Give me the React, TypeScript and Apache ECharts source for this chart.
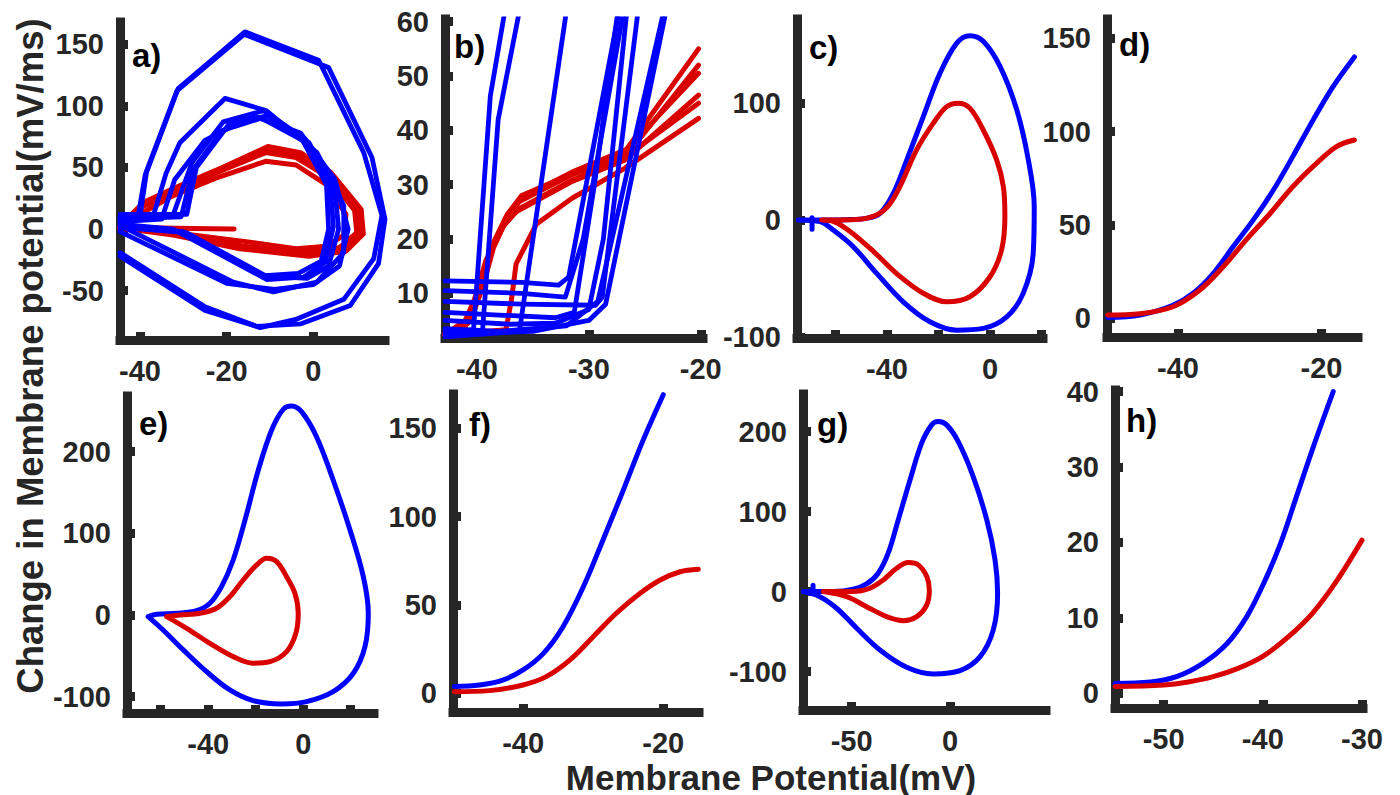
import React, { useEffect, useRef } from "react";
import * as echarts from "echarts";

const FONT = '"Liberation Sans", Arial, Helvetica, sans-serif';
const AXIS = "#262626";
const BLUE = "#0000ff";
const RED = "#d90000";

// ---------- panel a: phase-plane trajectories (V, dV/dt) ----------
const aBlue: number[][][] = [
  [[-44.6, 7], [-40, 10], [-38.5, 46], [-31.2, 114], [-15.8, 160], [1.2, 137], [11.6, 62], [15.8, 11], [13.9, -24], [7, -57], [-3.8, -73], [-12.3, -80], [-25, -63], [-44.6, -19]],
  [[-44.6, 5], [-40.5, 9], [-38.8, 44], [-31.5, 112], [-16, 158], [3.5, 131], [13.5, 58], [16.5, 8], [15, -28], [8.5, -62], [-3, -77], [-13, -79], [-25, -66], [-44.6, -22]],
  [[-44.6, 9], [-36.9, 11], [-34, 45], [-30.8, 70], [-20.4, 106], [-10.8, 96], [0.8, 62], [7, 19], [7, -19], [0.8, -43], [-9.2, -51], [-18.5, -43], [-44.6, 3]],
  [[-44.6, 10], [-32.4, 11], [-28, 54], [-20.8, 87], [-11.5, 96], [-1.9, 73], [3.9, 35], [4.6, 2], [2.7, -27], [-2.3, -39], [-10.7, -41], [-32.4, 0], [-44.6, 4]],
  [[-44.6, 12], [-29.2, 12], [-27, 50], [-19.5, 85], [-10.5, 92], [-1, 70], [5, 30], [5.8, 0], [3.5, -30], [-1.5, -40], [-11, -38], [-29.2, -3], [-44.6, 2]],
  [[-44.6, 8], [-30.5, 10], [-27.8, 48], [-21, 80], [-12, 90], [-2.5, 72], [3, 36], [3.5, 0], [1.8, -26], [-3.5, -36], [-12, -38], [-30, -2], [-44.6, 1]],
  [[-44.6, 6], [-35, 8], [-32, 40], [-25, 72], [-14, 92], [-3, 78], [5, 40], [8, 0], [6, -30], [0, -45], [-9, -49], [-20, -44], [-44.6, -2]],
];
const aRed: number[][][] = [
  [[-44.6, 1], [-40, 12], [-33, 26], [-22, 42], [-11, 55], [-4, 52], [3, 36], [7.5, 12], [7, -5], [3, -14], [-4, -16], [-16, -10], [-32, -3], [-44.6, 0]],
  [[-44.6, 2], [-39.5, 18], [-32, 31], [-21.5, 47], [-11, 62], [-4, 58], [3.5, 42], [9.5, 15], [10, -3], [6, -15], [-1, -19], [-16, -14], [-31, -4], [-44.6, 1]],
  [[-44.6, 3], [-39, 22], [-31, 35], [-21, 50], [-10.5, 67], [-3, 62], [4, 46], [11, 16], [11.5, -4], [7.5, -18], [-1, -22], [-17, -16], [-32, -5], [-44.6, 1]],
  [[-44.6, 2], [-39.5, 20], [-31.5, 33], [-21, 48], [-11.5, 64], [-3.5, 60], [3.8, 44], [10.5, 14], [10.5, -4], [6.5, -17], [-1, -20], [-16, -15], [-31, -4], [-44.6, 2]],
  [[-38, 1], [-28, 0.5], [-18.3, 0]],
];

// ---------- panel b: enlarged onset region ----------
const bBlue: number[][][] = [
  [[-42.85, 12.3], [-36, 12], [-32.7, 11.5], [-31.8, 13], [-27.3, 62]],
  [[-42.85, 10.5], [-36, 10], [-32.1, 9.3], [-30.5, 20], [-26.9, 62]],
  [[-42.85, 8.5], [-36, 8], [-29.4, 7.8], [-28.8, 9.3], [-25.6, 62]],
  [[-42.85, 6.5], [-38, 6], [-33, 5.5], [-31.3, 6.5], [-29.5, 30], [-27.4, 62]],
  [[-42.85, 5], [-37, 4.3], [-33, 4.5], [-30, 7], [-28.7, 20], [-26.6, 62]],
  [[-42.85, 3.5], [-38, 3], [-32, 4], [-29.2, 8.5], [-23.3, 62]],
  [[-42.85, 2.5], [-35, 3], [-30, 5], [-28.5, 8], [-23.1, 62]],
  [[-42.85, 2.8], [-40.3, 3.3], [-38.8, 46.3], [-37.5, 62]],
  [[-42.85, 2.3], [-39.5, 3], [-38.1, 42], [-36.2, 62]],
  [[-42.85, 2], [-36.2, 3], [-32, 62]],
];
const bRed: number[][][] = [
  [[-42.85, 2.5], [-40.8, 4.5], [-39.8, 10], [-38.8, 17.8], [-37.5, 23.5], [-36.2, 26.9], [-31.5, 31.8], [-26.8, 36], [-20.2, 55]],
  [[-42.85, 2.3], [-41, 4], [-40, 9.5], [-39, 16.5], [-37.6, 22.5], [-36.3, 25.5], [-31.5, 30.8], [-26.8, 35], [-20.2, 52]],
  [[-42.85, 2.2], [-40.6, 4.8], [-39.5, 11], [-38.5, 18.5], [-37.2, 24.3], [-36, 27.5], [-31.3, 32.5], [-26.6, 36.5], [-20.2, 50.5]],
  [[-42.85, 2.6], [-41.2, 4.2], [-40.2, 9], [-39.2, 16], [-37.8, 22], [-36.5, 25], [-31.6, 30.5], [-26.8, 34.5], [-20.2, 46.5]],
  [[-42.85, 2.4], [-40.7, 5.5], [-39.6, 12], [-38.6, 19], [-37.3, 24.5], [-36, 28], [-31.5, 32], [-26.8, 35], [-20.2, 45]],
  [[-42, 2.5], [-37.4, 3.3], [-36.9, 9], [-36.5, 15.4], [-34.7, 22.7], [-31.5, 27.5], [-26.8, 33], [-20.2, 42.2]],
];

// ---------- panel c ----------
const cBlue = [[-74.4, 0], [-64.8, 0], [-56, 0.3], [-48.2, 1.4], [-42.7, 5.7], [-37.5, 22.9], [-32.3, 51.4], [-25.9, 88.5], [-19.4, 125.7], [-12.9, 151.4], [-7.8, 157.7], [-2.6, 152.9], [3.9, 131.4], [10.4, 94.3], [14.9, 51.4], [17.2, 11.4], [16.8, -28.5], [12.9, -62.8], [6.5, -82.9], [-2.6, -92.8], [-12.9, -94.3], [-23.3, -87.1], [-33.7, -70], [-44, -45.7], [-53.1, -22.9], [-60.9, -8.6], [-66, -1.4], [-74.4, 0]];
const cBlueStart = [[-69.1, 2], [-69.1, -8]];
const cRed = [[-65.4, 0], [-55, 0.2], [-50.5, 0.6], [-44, 4.3], [-39.5, 12], [-35, 28.5], [-28.5, 60], [-22, 82.9], [-16.8, 97], [-12.3, 100], [-7.8, 95.7], [-2.6, 77], [2.6, 51.4], [5.2, 28.5], [5.8, 2.9], [4.5, -25.7], [0, -48.6], [-7.8, -65.7], [-16.8, -70], [-25.9, -62.7], [-36.4, -45.6], [-45.2, -27], [-54.2, -10], [-60.6, -1.4], [-65.4, 0]];

// ---------- panel d ----------
const dBlue = [[-49.8, 0.5], [-45.3, 1.8], [-40.7, 7], [-37.9, 13.4], [-35.1, 24], [-32.3, 38.4], [-29.5, 52.7], [-26.7, 68.7], [-24, 86.6], [-21.2, 106], [-18.4, 124], [-15.4, 140]];
const dRed = [[-49.8, 1.8], [-45.3, 2.5], [-40.7, 6.2], [-37, 15], [-33.7, 27.6], [-30.5, 42], [-27.2, 56], [-24, 70.5], [-20.7, 83], [-17.9, 92], [-15.4, 95.5]];

// ---------- panel e ----------
const eBlue = [[-65.3, -2], [-61.7, 0.8], [-53.3, 2], [-44.9, 5.3], [-39.3, 14.3], [-34.4, 34.7], [-29.5, 67.3], [-24.5, 116.3], [-18.9, 177.5], [-13.3, 226.4], [-8.4, 251.8], [-4.9, 255.8], [-0.7, 248.8], [5.6, 218.2], [12.6, 165.2], [19.7, 104], [25.3, 46.9], [27.4, 2.1], [26, -38.8], [21.1, -71.4], [12.6, -93.9], [1.4, -106.1], [-9.1, -108.9], [-21.1, -104.9], [-30.9, -91.8], [-40.7, -69.4], [-50.5, -42.8], [-59, -18.4], [-65.3, -2]];
const eRed = [[-57.5, -2], [-51.9, 0], [-43.5, 2], [-36.5, 8.2], [-30.9, 22.4], [-25.3, 42.8], [-19.6, 61.2], [-15.4, 69.4], [-11.2, 65.3], [-7, 46.9], [-3.5, 26.5], [-2.1, 2], [-3.1, -22.4], [-7, -44.9], [-14, -57.2], [-21.1, -59.1], [-29.5, -51], [-39.3, -34.7], [-49.1, -16.3], [-57.5, -2]];

// ---------- panel f ----------
const fBlue = [[-49.8, 3.8], [-46.2, 4.7], [-42.9, 7.5], [-40, 13.2], [-37.1, 22.6], [-34.3, 37.7], [-31.4, 60.3], [-28.6, 86.8], [-25.7, 115], [-22.9, 143], [-20, 169]];
const fRed = [[-49.8, 0.9], [-44.8, 1.5], [-40, 4.7], [-36.7, 9.4], [-33.3, 18.9], [-30, 32], [-26.7, 45.3], [-23.3, 56.6], [-20.5, 64], [-17.6, 68.8], [-15, 70.2]];

// ---------- panel g ----------
const gBlue = [[-74.6, 0], [-59.3, 0], [-49.2, 2.9], [-42.4, 9.6], [-36.5, 23], [-31.4, 48], [-26.3, 89.6], [-20.3, 139.6], [-14.4, 185.5], [-9.3, 208.4], [-5.9, 212.5], [-1.7, 208.4], [4.2, 187.5], [11.8, 143.8], [18.7, 89.6], [22.9, 39.6], [24.2, -2], [22, -47.9], [15.3, -81.3], [5.1, -98.8], [-8.5, -102.9], [-22, -94.5], [-35.6, -72.9], [-47.4, -45.8], [-57.6, -20.8], [-66.1, -6.3], [-74.6, 0]];
const gBlueStart = [[-69.6, 8], [-69.6, -2]];
const gRed = [[-64.4, 0], [-49.2, 0], [-40.7, 4.2], [-33.9, 14.6], [-27.1, 29.2], [-21.2, 36.3], [-16.1, 33.4], [-11.8, 18.8], [-10.5, 2.1], [-11.8, -16.6], [-16.9, -31.3], [-23.7, -36.3], [-32.2, -31.3], [-42.4, -18.8], [-52.5, -6.3], [-64.4, 0]];

// ---------- panel h ----------
const hBlue = [[-54.9, 1.3], [-51.3, 1.5], [-48.7, 2.2], [-46, 4], [-43.6, 6.6], [-41.6, 10.2], [-39.9, 14.6], [-38.2, 19.9], [-36.6, 26.1], [-34.9, 32.7], [-32.9, 40]];
const hRed = [[-54.9, 0.9], [-50, 1.1], [-47.5, 1.5], [-45, 2.2], [-42.5, 3.3], [-40, 4.9], [-37.5, 7.4], [-35, 10.6], [-32.5, 15], [-30, 20.3]];

// ---------- tick values ----------
const aXTicks = [-40, -20, 0];
const aYTicks = [-50, 0, 50, 100, 150];
const bXTicks = [-40, -30, -20];
const bYTicks = [10, 20, 30, 40, 50, 60];
const cXTicks = [-60, -40, -20, 0, 20];
const cXLabels = [-40, 0];
const cYTicks = [-100, 0, 100];
const dXTicks = [-40, -20];
const dYTicks = [0, 50, 100, 150];
const eXTicks = [-60, -40, -20, 0, 20];
const eXLabels = [-40, 0];
const eYTicks = [-100, 0, 100, 200];
const fXTicks = [-40, -20];
const fYTicks = [0, 50, 100, 150];
const gXTicks = [-50, 0, 50];
const gYTicks = [-100, 0, 100, 200];
const hXTicks = [-50, -40, -30];
const hYTicks = [0, 10, 20, 30, 40];

type Trace = { data: number[][]; color: string; width: number; smooth: number };
type Panel = {
  letter: string;
  box: [number, number, number, number]; // left, top, right, bottom in px
  letterAt: [number, number];
  xr: [number, number];
  yr: [number, number];
  xTicks: number[];
  xLabels: number[];
  yTicks: number[];
  yLabels: number[];
  traces: Trace[];
};

const poly = (loops: number[][][], color: string, width: number): Trace[] =>
  loops.map((data) => ({ data, color, width, smooth: 0 }));
const curve = (data: number[][], color: string): Trace => ({ data, color, width: 5, smooth: 0.35 });
const seg = (data: number[][], color: string): Trace => ({ data, color, width: 5, smooth: 0 });

const panels: Panel[] = [
  {
    letter: "a)", box: [120, 22, 385, 340], letterAt: [132, 55],
    xr: [-44.6, 16.5], yr: [-90, 168],
    xTicks: aXTicks, xLabels: aXTicks, yTicks: aYTicks, yLabels: aYTicks,
    traces: [...poly(aRed, RED, 5), ...poly(aBlue, BLUE, 4.8)],
  },
  {
    letter: "b)", box: [445, 19, 703, 338], letterAt: [454, 46],
    xr: [-42.85, -19.8], yr: [1.77, 60.5],
    xTicks: bXTicks, xLabels: bXTicks, yTicks: bYTicks, yLabels: bYTicks,
    traces: [...poly(bRed, RED, 5), ...poly(bBlue, BLUE, 4.8)],
  },
  {
    letter: "c)", box: [797, 19, 1043, 338], letterAt: [809, 47],
    xr: [-74.95, 20.6], yr: [-101, 172],
    xTicks: cXTicks, xLabels: cXLabels, yTicks: cYTicks, yLabels: cYTicks,
    traces: [curve(cBlue, BLUE), seg(cBlueStart, BLUE), curve(cRed, RED)],
  },
  {
    letter: "d)", box: [1107, 19, 1358, 337], letterAt: [1119, 44],
    xr: [-49.9, -14.9], yr: [-10, 160.3],
    xTicks: dXTicks, xLabels: dXTicks, yTicks: dYTicks, yLabels: dYTicks,
    traces: [curve(dBlue, BLUE), curve(dRed, RED)],
  },
  {
    letter: "e)", box: [127, 396, 374, 713], letterAt: [139, 423],
    xr: [-74.2, 29.8], yr: [-120, 268],
    xTicks: eXTicks, xLabels: eXLabels, yTicks: eYTicks, yLabels: eYTicks,
    traces: [curve(eBlue, BLUE), curve(eRed, RED)],
  },
  {
    letter: "f)", box: [453, 394, 699, 712], letterAt: [469, 424],
    xr: [-50, -14.9], yr: [-10.6, 169.4],
    xTicks: fXTicks, xLabels: fXTicks, yTicks: fYTicks, yLabels: fYTicks,
    traces: [curve(fBlue, BLUE), curve(fRed, RED)],
  },
  {
    letter: "g)", box: [803, 394, 1046, 710], letterAt: [817, 424],
    xr: [-74.7, 48.8], yr: [-148, 247],
    xTicks: gXTicks, xLabels: gXTicks, yTicks: gYTicks, yLabels: gYTicks,
    traces: [curve(gBlue, BLUE), seg(gBlueStart, BLUE), curve(gRed, RED)],
  },
  {
    letter: "h)", box: [1115, 390, 1363, 708], letterAt: [1126, 420],
    xr: [-54.9, -29.9], yr: [-1.95, 40.2],
    xTicks: hXTicks, xLabels: hXTicks, yTicks: hYTicks, yLabels: hYTicks,
    traces: [curve(hBlue, BLUE), curve(hRed, RED)],
  },
];

const LABEL_SIZE = 29;

const axisCommon = (ticks: number[], labels: number[], margin: number) => ({
  type: "value" as const,
  axisLine: { show: true, onZero: false, lineStyle: { color: AXIS, width: 9, cap: "square" } },
  axisTick: { show: true, inside: true, length: 8, customValues: ticks, lineStyle: { color: AXIS, width: 9 } },
  axisLabel: {
    customValues: labels,
    margin,
    color: AXIS,
    fontSize: LABEL_SIZE,
    lineHeight: LABEL_SIZE,
    fontWeight: "bold",
    fontFamily: FONT,
  },
  splitLine: { show: false },
});

function buildOption() {
  const grid: any[] = [];
  const xAxis: any[] = [];
  const yAxis: any[] = [];
  const series: any[] = [];
  const graphic: any[] = [];

  panels.forEach((p, i) => {
    const [l, t, r, b] = p.box;
    grid.push({ left: l, top: t, width: r - l, height: b - t, containLabel: false });
    xAxis.push({ ...axisCommon(p.xTicks, p.xLabels, 16), gridIndex: i, min: p.xr[0], max: p.xr[1] });
    yAxis.push({ ...axisCommon(p.yTicks, p.yLabels, 16), gridIndex: i, min: p.yr[0], max: p.yr[1] });
    p.traces.forEach((tr) => {
      series.push({
        type: "line",
        xAxisIndex: i,
        yAxisIndex: i,
        data: tr.data,
        showSymbol: false,
        symbol: "none",
        smooth: tr.smooth,
        clip: true,
        silent: true,
        lineStyle: { color: tr.color, width: tr.width, cap: "round", join: "round" },
      });
    });
    graphic.push({
      type: "text",
      x: p.letterAt[0],
      y: p.letterAt[1],
      z: 100,
      style: {
        text: p.letter,
        fontSize: 33,
        fontWeight: "bold",
        fontFamily: FONT,
        fill: "#000",
        align: "left",
        verticalAlign: "middle",
      },
    });
  });

  graphic.push({
    type: "text",
    x: 30,
    y: 356,
    rotation: Math.PI / 2,
    style: {
      text: "Change in Membrane potential(mV/ms)",
      fontSize: 36.5,
      lineHeight: 32,
      fontWeight: "bold",
      fontFamily: FONT,
      fill: AXIS,
      align: "center",
      verticalAlign: "middle",
    },
  });
  graphic.push({
    type: "text",
    x: 771,
    y: 777,
    style: {
      text: "Membrane Potential(mV)",
      fontSize: 35,
      lineHeight: 28,
      fontWeight: "bold",
      fontFamily: FONT,
      fill: AXIS,
      align: "center",
      verticalAlign: "middle",
    },
  });

  return { animation: false, backgroundColor: "#fff", grid, xAxis, yAxis, series, graphic };
}

export default function App() {
  const ref = useRef<HTMLDivElement>(null);
  useEffect(() => {
    if (!ref.current) return;
    const chart = echarts.init(ref.current, undefined, { renderer: "svg" });
    chart.setOption(buildOption() as any);
    return () => chart.dispose();
  }, []);
  return (
    <div
      ref={ref}
      style={{ position: "fixed", left: 0, top: 0, width: 1400, height: 795, background: "#fff" }}
    />
  );
}
